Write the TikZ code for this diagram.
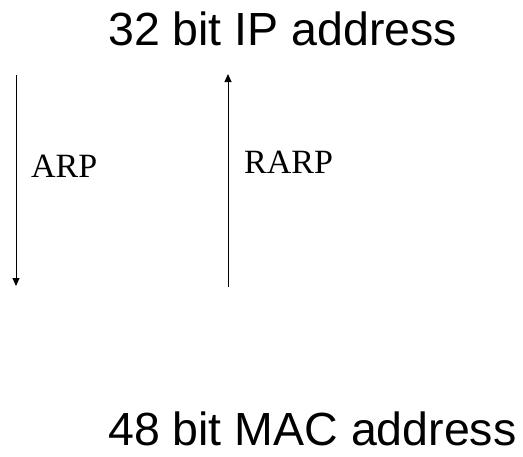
\documentclass[tikz,border=0pt]{standalone}
\usepackage{fontspec}
\setmainfont{Liberation Serif}
\newfontfamily\headfont{Liberation Sans}
\usetikzlibrary{arrows.meta}
\begin{document}
\begin{tikzpicture}[x=1pt,y=-1pt,
  title/.style={font=\headfont\fontsize{46.5}{50}\selectfont, inner sep=0pt, anchor=base west},
  proto/.style={font=\fontsize{34}{38}\selectfont, inner sep=0pt, anchor=base west},
  conv/.style={line width=1pt, -{Triangle[width=7pt,length=8pt]}}]
  \useasboundingbox (0,0) rectangle (523,456);
  % address formats
  \node[title] (ip)  at (108,45)  {32 bit IP address};
  \node[title] (mac) at (108,445) {48 bit MAC address};
  % resolution directions
  \coordinate (arpS)  at (16,75);
  \coordinate (arpE)  at (16,286);
  \coordinate (rarpS) at (228,287);
  \coordinate (rarpE) at (228,74);
  \draw[conv] (arpS) -- (arpE);
  \draw[conv] (rarpS) -- (rarpE);
  \node[proto] (arp)  at (31,177)  {ARP};
  \node[proto] (rarp) at (244,173) {RARP};
\end{tikzpicture}
\end{document}
